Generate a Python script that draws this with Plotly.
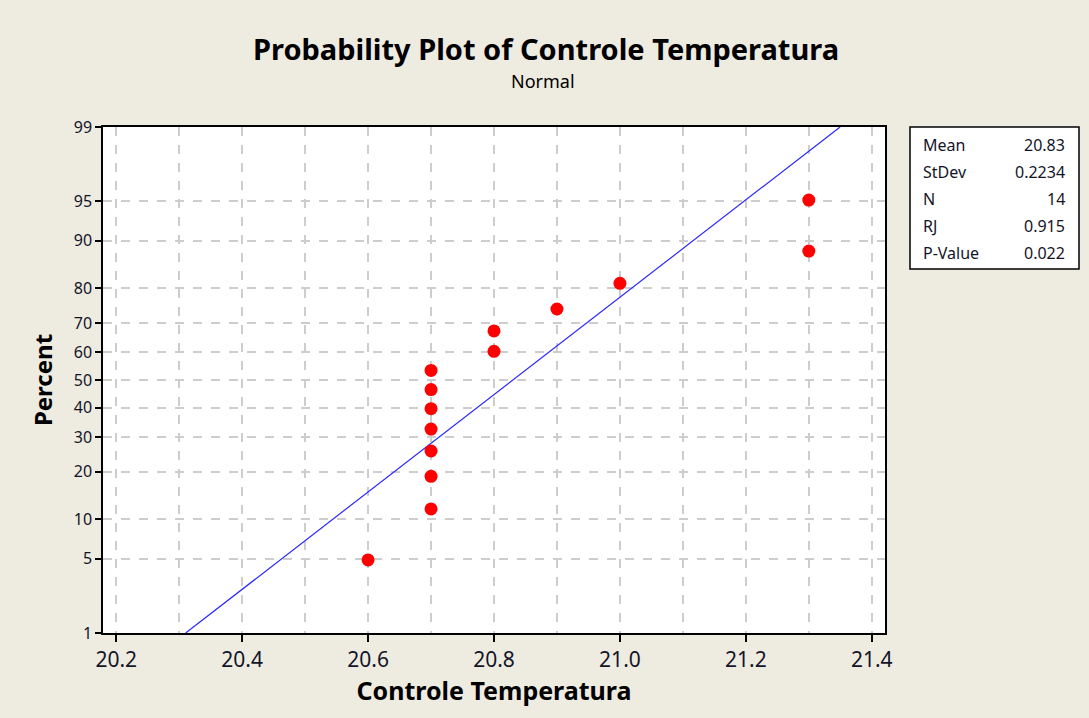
import plotly.graph_objects as go
from statistics import NormalDist

# ---- data ----
temperatures = [20.6, 20.7, 20.7, 20.7, 20.7, 20.7, 20.7, 20.7, 20.8, 20.8, 20.9, 21.0, 21.3, 21.3]
percents = [4.9, 11.8, 18.8, 25.7, 32.6, 39.6, 46.5, 53.5, 60.4, 67.4, 74.3, 81.3, 88.2, 95.1]
y_tick_percents = [1, 5, 10, 20, 30, 40, 50, 60, 70, 80, 90, 95, 99]
x_tick_values = [20.2, 20.4, 20.6, 20.8, 21.0, 21.2, 21.4]
stat_labels = ["Mean", "StDev", "N", "RJ", "P-Value"]
stat_values = ["20.83", "0.2234", "14", "0.915", "0.022"]
fit_mean = 20.83
fit_stdev = 0.2234

nd = NormalDist()
z = lambda p: nd.inv_cdf(p / 100.0)

W, H = 1089, 718
L, R, T, B = 103, 885, 127, 633
BG = "#EEEBE1"
FONT = "Noto Sans"
TXT = "#141428"

def px_x(px):
    return (px - L) / (R - L)

def px_y(py):
    return (B - py) / (B - T)

fig = go.Figure()

# fitted line from 1% to 99%
line_p = [y_tick_percents[0], y_tick_percents[-1]]
fig.add_trace(go.Scatter(
    x=[fit_mean + fit_stdev * z(p) for p in line_p],
    y=[z(p) for p in line_p],
    mode="lines", line=dict(color="#2828FF", width=1.2),
    hoverinfo="skip", showlegend=False))

fig.add_trace(go.Scatter(
    x=temperatures, y=[z(p) for p in percents],
    mode="markers", marker=dict(color="#FF0000", size=13),
    showlegend=False))

grid = dict(gridcolor="#CDCDCD", gridwidth=1.5, griddash="dash")

fig.update_xaxes(
    range=[20.179, 21.421],
    tickvals=x_tick_values, ticktext=[f"{v:.1f}" for v in x_tick_values],
    ticks="outside", ticklen=7, tickwidth=1.5, tickcolor="#000",
    showline=True, linecolor="#000", linewidth=1.5, mirror=True,
    showgrid=True, **grid,
    minor=dict(dtick=0.1, tick0=20.2, showgrid=True, ticks="", **grid),
    tickfont=dict(family=FONT, size=21, color=TXT),
    title=dict(text="<b>Controle Temperatura</b>", standoff=6,
               font=dict(family=FONT, size=25, color="#000")),
    zeroline=False)

fig.update_yaxes(
    range=[z(1), z(99)],
    tickvals=[z(p) for p in y_tick_percents], ticktext=[str(p) for p in y_tick_percents],
    ticks="outside", ticklen=6, tickwidth=1.5, tickcolor="#000",
    showline=True, linecolor="#000", linewidth=1.5, mirror=True,
    showgrid=True, **grid,
    tickfont=dict(family=FONT, size=16, color=TXT),
    title=dict(text="<b>Percent</b>", standoff=14,
               font=dict(family=FONT, size=24, color="#000")),
    zeroline=False)

shapes = [dict(type="rect", xref="paper", yref="paper",
               x0=px_x(910), x1=px_x(1079), y0=px_y(269), y1=px_y(127),
               line=dict(color="#000", width=1.5), fillcolor="#FFFFFF", layer="below")]

annotations = [
    dict(text="<b>Probability Plot of Controle Temperatura</b>", xref="paper", yref="paper",
         x=px_x(546), y=px_y(48), showarrow=False, xanchor="center", yanchor="middle",
         font=dict(family=FONT, size=29, color="#000")),
    dict(text="Normal", xref="paper", yref="paper",
         x=px_x(543), y=px_y(81), showarrow=False, xanchor="center", yanchor="middle",
         font=dict(family=FONT, size=18, color="#000")),
]
row_y = [145, 172, 199, 226, 253]
for lab, val, ry in zip(stat_labels, stat_values, row_y):
    annotations.append(dict(text=lab, xref="paper", yref="paper", x=px_x(921), y=px_y(ry),
                            showarrow=False, xanchor="left", yanchor="middle",
                            font=dict(family=FONT, size=16, color=TXT)))
    annotations.append(dict(text=val, xref="paper", yref="paper", x=px_x(1067), y=px_y(ry),
                            showarrow=False, xanchor="right", yanchor="middle",
                            font=dict(family=FONT, size=16, color=TXT)))

fig.update_layout(
    width=W, height=H,
    margin=dict(l=L, r=W - R, t=T, b=H - B, pad=0),
    paper_bgcolor=BG, plot_bgcolor="#FFFFFF",
    shapes=shapes, annotations=annotations,
    showlegend=False)

fig.write_html("out.html", config={"displayModeBar": False},
               post_script="document.body.style.margin='0';")
